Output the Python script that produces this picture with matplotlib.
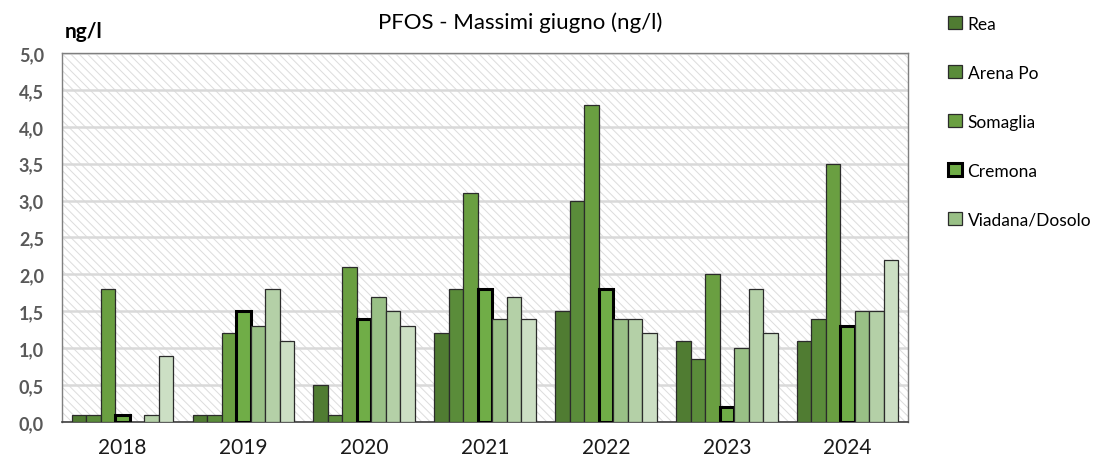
import matplotlib
matplotlib.use("Agg")
import matplotlib.pyplot as plt
import numpy as np
from matplotlib.patches import Rectangle, Patch

plt.rcParams['font.family'] = ['Lato', 'DejaVu Sans']
plt.rcParams['hatch.color'] = '#dcdcdc'
plt.rcParams['hatch.linewidth'] = 0.7

years = ['2018', '2019', '2020', '2021', '2022', '2023', '2024']
series_names = ['Rea', 'Arena Po', 'Somaglia', 'Cremona', 'Viadana/Dosolo', 'Serie 6', 'Serie 7']
rea = [0.1, 0.1, 0.5, 1.2, 1.5, 1.1, 1.1]
arena_po = [0.1, 0.1, 0.1, 1.8, 3.0, 0.86, 1.4]
somaglia = [1.8, 1.2, 2.1, 3.1, 4.3, 2.0, 3.5]
cremona = [0.1, 1.5, 1.4, 1.8, 1.8, 0.2, 1.3]
viadana = [np.nan, 1.3, 1.7, 1.4, 1.4, 1.0, 1.5]
serie6 = [0.1, 1.8, 1.5, 1.7, 1.4, 1.8, 1.5]
serie7 = [0.9, 1.1, 1.3, 1.4, 1.2, 1.2, 2.2]
values = [rea, arena_po, somaglia, cremona, viadana, serie6, serie7]
colors = ['#507c32', '#5a8c3a', '#6a9f41', '#70ad47', '#99c086', '#b4d0a7', '#ccdfc4']
legend_count = 5

fig = plt.figure(figsize=(11, 4.64), dpi=100)
ax = fig.add_axes([0.0564, 0.0884, 0.7691, 0.7952])

ax.set_xlim(-0.5, len(years) - 0.5)
ax.set_ylim(0, 5)
# hatched background
ax.add_patch(Rectangle((0, 0), 1, 1, transform=ax.transAxes, facecolor='white',
                       hatch='\\\\\\\\', edgecolor='#dcdcdc', linewidth=0, zorder=0))
ax.set_yticks(np.arange(0, 5.01, 0.5))
ax.grid(axis='y', color='#d9d9d9', linewidth=1.8, zorder=1)
ax.set_axisbelow(True)

n = len(values)
bw = 0.84 / n
x = np.arange(len(years))
for i, (vals, c) in enumerate(zip(values, colors)):
    pos = x - 0.42 + bw * (i + 0.5)
    if i == 3:
        ax.bar(pos, vals, width=bw, color=c, edgecolor='black', linewidth=2.2, zorder=3)
    else:
        ax.bar(pos, vals, width=bw, color=c, edgecolor='#2b2b2b', linewidth=0.9, zorder=3)

ax.set_xticks(x)
ax.set_xticklabels(years, fontsize=15, color='#1a1a1a')
ax.set_yticklabels([f'{v:.1f}'.replace('.', ',') for v in np.arange(0, 5.01, 0.5)],
                   fontsize=13, fontweight='bold', color='#595959')
ax.tick_params(axis='both', length=0)
ax.tick_params(axis='x', pad=11)
ax.tick_params(axis='y', pad=13)
for s in ['left', 'top', 'right']:
    ax.spines[s].set_color('#7f7f7f')
    ax.spines[s].set_linewidth(1.0)
ax.spines['bottom'].set_color('#404040')
ax.spines['bottom'].set_linewidth(1.2)

fig.text(0.473, 0.950, 'PFOS - Massimi giugno (ng/l)', ha='center', va='center',
         fontsize=16, color='black')
fig.text(0.059, 0.93, 'ng/l', ha='left', va='center', fontsize=15, fontweight='bold',
         color='black')

handles = []
for i in range(legend_count):
    if i == 3:
        handles.append(Patch(facecolor=colors[i], edgecolor='black', linewidth=2.2))
    else:
        handles.append(Patch(facecolor=colors[i], edgecolor='#2b2b2b', linewidth=0.9))
fig.legend(handles, series_names[:legend_count], loc='upper left',
           bbox_to_anchor=(0.848, 0.998), frameon=False, fontsize=12.5,
           handlelength=0.8, handleheight=0.8, handletextpad=0.3,
           labelspacing=1.9)

fig.savefig('out.png', dpi=100)
